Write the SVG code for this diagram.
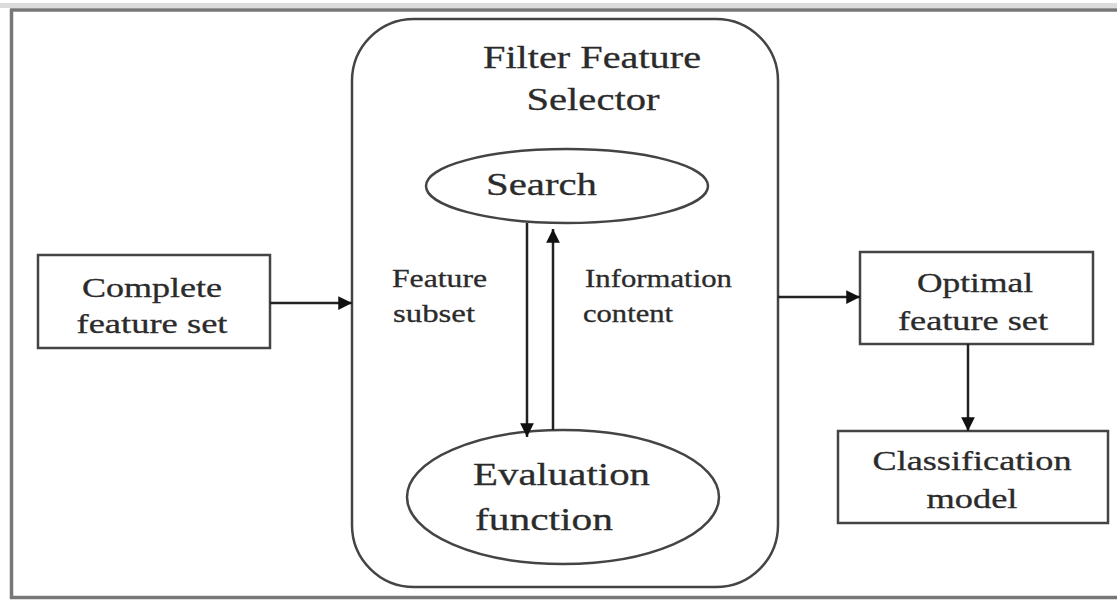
<svg xmlns="http://www.w3.org/2000/svg" width="1117" height="601" viewBox="0 0 1117 601">
<style>
.t{font-family:'Liberation Serif','DejaVu Serif',serif;fill:#2b2b2b;stroke:#2b2b2b;stroke-width:0.3}
.shape{fill:#fff;stroke:#444;stroke-width:2.5}
.conn{stroke:#222;stroke-width:2.5;fill:none}
</style>
<defs>
<marker id="ah" viewBox="0 0 10 10" refX="10" refY="5" markerWidth="5.5" markerHeight="5.5" orient="auto" markerUnits="strokeWidth">
<path d="M0,0 L10,5 L0,10 z" fill="#111"/>
</marker>
</defs>
<rect x="0" y="0" width="1117" height="601" fill="#fff"/>
<rect x="0" y="3" width="1117" height="5" fill="#dcdcdc"/>
<g id="frame">
<line x1="10" y1="10" x2="1117" y2="10" stroke="#777" stroke-width="3.5"/>
<line x1="11.5" y1="9" x2="11.5" y2="599" stroke="#777" stroke-width="3.5"/>
<line x1="10" y1="597.5" x2="1117" y2="597.5" stroke="#777" stroke-width="3.5"/>
</g>
<g id="selector">
<rect class="shape" x="352" y="19" width="426" height="568" rx="62" ry="62"/>
<text class="t" x="592" y="68" font-size="32" text-anchor="middle" textLength="218" lengthAdjust="spacingAndGlyphs">Filter Feature</text>
<text class="t" x="593" y="110" font-size="32" text-anchor="middle" textLength="133" lengthAdjust="spacingAndGlyphs">Selector</text>
</g>
<g id="search">
<ellipse class="shape" cx="567" cy="186" rx="141" ry="37"/>
<text class="t" x="486" y="195" font-size="32" textLength="111" lengthAdjust="spacingAndGlyphs">Search</text>
</g>
<g id="evaluation">
<ellipse class="shape" cx="563" cy="497" rx="156" ry="67"/>
<text class="t" x="473" y="485" font-size="32" textLength="177" lengthAdjust="spacingAndGlyphs">Evaluation</text>
<text class="t" x="475" y="530" font-size="32" textLength="138" lengthAdjust="spacingAndGlyphs">function</text>
</g>
<g id="complete">
<rect class="shape" x="38" y="255" width="232" height="93"/>
<text class="t" x="152" y="297" font-size="27" text-anchor="middle" textLength="140" lengthAdjust="spacingAndGlyphs">Complete</text>
<text class="t" x="152" y="333" font-size="27" text-anchor="middle" textLength="151" lengthAdjust="spacingAndGlyphs">feature set</text>
</g>
<g id="optimal">
<rect class="shape" x="860" y="252" width="233" height="92"/>
<text class="t" x="975" y="292" font-size="27" text-anchor="middle" textLength="116" lengthAdjust="spacingAndGlyphs">Optimal</text>
<text class="t" x="973" y="330" font-size="27" text-anchor="middle" textLength="150" lengthAdjust="spacingAndGlyphs">feature set</text>
</g>
<g id="classification">
<rect class="shape" x="838" y="431" width="270" height="92"/>
<text class="t" x="972" y="470" font-size="27" text-anchor="middle" textLength="199" lengthAdjust="spacingAndGlyphs">Classification</text>
<text class="t" x="972" y="508" font-size="27" text-anchor="middle" textLength="91" lengthAdjust="spacingAndGlyphs">model</text>
</g>
<g id="connectors">
<line class="conn" x1="270" y1="303" x2="352" y2="303" marker-end="url(#ah)"/>
<line class="conn" x1="527" y1="223" x2="527" y2="437" marker-end="url(#ah)"/>
<line class="conn" x1="553" y1="430" x2="553" y2="229" marker-end="url(#ah)"/>
<line class="conn" x1="778" y1="297" x2="860" y2="297" marker-end="url(#ah)"/>
<line class="conn" x1="968" y1="344" x2="968" y2="431" marker-end="url(#ah)"/>
<text class="t" x="392" y="287" font-size="25" textLength="95" lengthAdjust="spacingAndGlyphs">Feature</text>
<text class="t" x="393" y="322" font-size="25" textLength="82" lengthAdjust="spacingAndGlyphs">subset</text>
<text class="t" x="585" y="287" font-size="25" textLength="147" lengthAdjust="spacingAndGlyphs">Information</text>
<text class="t" x="583" y="322" font-size="25" textLength="90" lengthAdjust="spacingAndGlyphs">content</text>
</g>
</svg>
